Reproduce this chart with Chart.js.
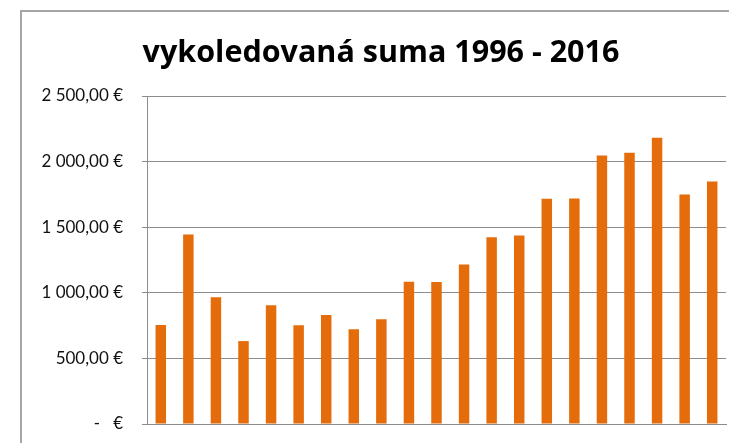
<!DOCTYPE html>
<html>
<head>
<meta charset="utf-8">
<script src="https://cdn.jsdelivr.net/npm/chart.js@4/dist/chart.umd.min.js"></script>
<style>
  html, body { margin:0; padding:0; background:#fff; overflow:hidden; }
  #frame { position:absolute; left:20px; top:10px; width:800px; height:500px;
           border-left:2px solid #a6a6a6; border-top:2px solid #a6a6a6; }
  #wrap { position:absolute; left:0; top:0; width:729px; height:443px; }
</style>
</head>
<body>
<div id="frame"></div>
<div id="wrap"><canvas id="chart"></canvas></div>
<script>
// data
const years = ['1996','1997','1998','1999','2000','2001','2002','2003','2004','2005','2006',
               '2007','2008','2009','2010','2011','2012','2013','2014','2015','2016'];
const amounts = [755, 1445, 966, 632, 906, 753, 830, 723, 799, 1085, 1083,
                 1215, 1423, 1436, 1717, 1719, 2047, 2067, 2182, 1750, 1849];
const yTicks = [0, 500, 1000, 1500, 2000, 2500];
const titleText = 'vykoledovaná suma 1996 - 2016';

const ORANGE = '#e46c0a';
const GRID = '#8c8c8c';

function euro(v){
  if(v === 0) return '-   €';
  const s = v.toFixed(2).replace('.', ',');
  const parts = s.split(',');
  const int = parts[0].replace(/\B(?=(\d{3})+(?!\d))/g, ' ');
  return int + ',' + parts[1] + ' €';
}

// title is centred on the chart frame (which runs past the right edge), not the canvas
const frameTitle = {
  id: 'frameTitle',
  afterDraw(chart){
    const ctx = chart.ctx;
    ctx.save();
    ctx.fillStyle = '#000';
    ctx.font = 'bold 30.5px "Open Sans"';
    ctx.textAlign = 'center';
    ctx.textBaseline = 'alphabetic';
    ctx.fillText(titleText, 381, 62);
    ctx.restore();
  }
};

new Chart(document.getElementById('chart'), {
  type: 'bar',
  data: {
    labels: years,
    datasets: [{
      data: amounts,
      backgroundColor: ORANGE,
      borderWidth: 0,
      categoryPercentage: 1,
      barPercentage: 0.38
    }]
  },
  options: {
    responsive: true,
    maintainAspectRatio: false,
    animation: false,
    layout: { padding: { left: 0, right: 3, top: 96, bottom: 19 } },
    plugins: {
      legend: { display: false },
      tooltip: { enabled: false },
      title: { display: false }
    },
    scales: {
      x: {
        grid: { display: false, drawTicks: false },
        border: { display: true, color: GRID, width: 1 },
        ticks: { display: false }
      },
      y: {
        min: 0,
        max: 2500,
        afterBuildTicks: function(scale){ scale.ticks = yTicks.map(v => ({ value: v })); },
        afterFit: function(scale){
          scale.width = 147;
          // tick padding is horizontal only here; don't let it eat vertical space
          scale.paddingBottom = 10;
          scale.paddingTop = 10;
        },
        grid: { color: GRID, lineWidth: 1, tickLength: 5, drawTicks: true },
        border: { display: true, color: GRID, width: 1 },
        ticks: {
          color: '#111',
          padding: 19,
          font: { family: 'Lato', size: 17 },
          callback: function(v){ return euro(v); }
        }
      }
    }
  },
  plugins: [frameTitle]
});
</script>
</body>
</html>
